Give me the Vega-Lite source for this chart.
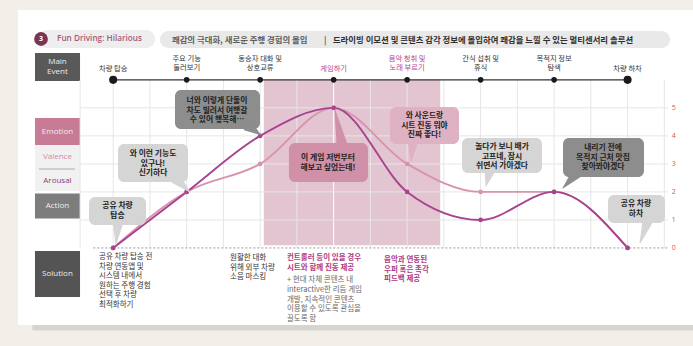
{
  "$schema": "https://vega.github.io/schema/vega-lite/v6.json",
  "width": 693,
  "height": 346,
  "autosize": {"type": "fit", "contains": "padding"},
  "padding": 0,
  "background": "#f2efe9",
  "config": {"view": {"stroke": null}, "font": "Noto Sans CJK KR"},
  "datasets": {
    "paper": [
      {"k": "paper", "i": -1.295, "i2": 7.89, "v": 8.49, "v2": -2.75},
      {"k": "shadow", "i": -1.1, "i2": 7.89, "v": -2.75, "v2": -2.95}
    ],
    "pills": [
      {"k": "pill1", "i": -1.023, "i2": 0.569, "v": 7.779, "v2": 7.137},
      {"k": "pill2", "i": 0.637, "i2": 7.577, "v": 7.743, "v2": 7.137}
    ],
    "circle": [{"k": "circle", "i": -0.982, "v": 7.458, "t": "3"}],
    "circletext": [{"k": "white", "i": -0.982, "v": 7.458, "t": "3"}],
    "headEn": [{"k": "head", "i": -0.764, "v": 7.458, "t": "Fun Driving: Hilarious"}],
    "headKo": [
      {"k": "hgray", "i": 0.8, "v": 7.44, "t": "쾌감의 극대화, 새로운 주행 경험의 몰입"},
      {"k": "hgray", "i": 2.87, "v": 7.44, "t": "|"},
      {"k": "hdark", "i": 2.99, "v": 7.44, "t": "드라이빙 이모션 및 콘텐츠 감각 정보에 몰입하여 쾌감을 느낄 수 있는 멀티센서리 솔루션"}
    ],
    "leftboxes": [
      {"k": "mainev", "i": -1.064, "i2": -0.451, "v": 6.958, "v2": 5.959},
      {"k": "emotion", "i": -1.064, "i2": -0.451, "v": 4.638, "v2": 3.674},
      {"k": "valbg", "i": -1.064, "i2": -0.451, "v": 3.674, "v2": 2.032},
      {"k": "action", "i": -1.064, "i2": -0.451, "v": 1.943, "v2": 1.051},
      {"k": "solution", "i": -1.064, "i2": -0.451, "v": -0.109, "v2": -1.751}
    ],
    "leftlabels": [
      {"k": "ltext", "i": -0.758, "v": 6.62, "t": "Main\nEvent"},
      {"k": "ltext", "i": -0.758, "v": 4.156, "t": "Emotion"},
      {"k": "valence", "i": -0.758, "v": 3.246, "t": "Valence"},
      {"k": "arousal", "i": -0.758, "v": 2.389, "t": "Arousal"},
      {"k": "ltext", "i": -0.758, "v": 1.497, "t": "Action"},
      {"k": "ltext", "i": -0.758, "v": -0.93, "t": "Solution"}
    ],
    "sep": [{"k": "sep", "i": -1.009, "i2": -0.52, "v": 2.818}],
    "zone": [{"k": "zone", "i": 2.05, "i2": 4.45, "v": 6, "v2": 0.1}],
    "vgrid": [
      {"k": "grid", "i": -0.45, "v": 0, "v2": 6},
      {"k": "grid", "i": 0, "v": 0, "v2": 6},
      {"k": "grid", "i": 0.5, "v": 0, "v2": 6},
      {"k": "grid", "i": 1, "v": 0, "v2": 6},
      {"k": "grid", "i": 1.5, "v": 0, "v2": 6},
      {"k": "grid", "i": 2, "v": 0, "v2": 6},
      {"k": "grid", "i": 2.5, "v": 0, "v2": 6},
      {"k": "zoneline", "i": 3, "v": 0, "v2": 6},
      {"k": "grid", "i": 3.5, "v": 0, "v2": 6},
      {"k": "grid", "i": 4, "v": 0, "v2": 6},
      {"k": "grid", "i": 4.5, "v": 0, "v2": 6},
      {"k": "grid", "i": 5, "v": 0, "v2": 6},
      {"k": "grid", "i": 5.5, "v": 0, "v2": 6},
      {"k": "grid", "i": 6, "v": 0, "v2": 6},
      {"k": "grid", "i": 6.5, "v": 0, "v2": 6},
      {"k": "grid", "i": 7, "v": 0, "v2": 6},
      {"k": "grid", "i": 7.5, "v": 0, "v2": 6}
    ],
    "hgrid": [
      {"k": "grid", "i": -0.45, "i2": 7.55, "v": 1},
      {"k": "grid", "i": -0.45, "i2": 7.55, "v": 2},
      {"k": "grid", "i": -0.45, "i2": 7.55, "v": 3},
      {"k": "grid", "i": -0.45, "i2": 7.55, "v": 4},
      {"k": "grid", "i": -0.45, "i2": 7.55, "v": 5}
    ],
    "base": [{"k": "base", "i": -0.27, "i2": 7.55, "v": 0}],
    "axlabels": [
      {"k": "axlab", "i": 7.6, "v": 0, "t": "0"},
      {"k": "axlab", "i": 7.6, "v": 1, "t": "1"},
      {"k": "axlab", "i": 7.6, "v": 2, "t": "2"},
      {"k": "axlab", "i": 7.6, "v": 3, "t": "3"},
      {"k": "axlab", "i": 7.6, "v": 4, "t": "4"},
      {"k": "axlab", "i": 7.6, "v": 5, "t": "5"}
    ],
    "evline": [{"k": "evline", "i": 0, "i2": 7, "v": 6}],
    "evdots": [
      {"k": "evdot", "i": 1, "v": 6},
      {"k": "evdot", "i": 2, "v": 6},
      {"k": "evdot", "i": 3, "v": 6},
      {"k": "evdot", "i": 4, "v": 6},
      {"k": "evdot", "i": 5, "v": 6},
      {"k": "evdot", "i": 6, "v": 6}
    ],
    "evends": [
      {"k": "evdot", "i": 0, "v": 6},
      {"k": "evdot", "i": 7, "v": 6}
    ],
    "evlabels": [
      {"k": "evtext", "i": 0, "v": 6.387, "t": "차량 탑승"},
      {"k": "evtext", "i": 1, "v": 6.76, "t": "주요 기능\n둘러보기"},
      {"k": "evtext", "i": 2, "v": 6.76, "t": "동승자 대화 및\n상호교류"},
      {"k": "evmag", "i": 3, "v": 6.387, "t": "게임하기"},
      {"k": "evmag", "i": 4, "v": 6.76, "t": "음악 청취 및\n노래 부르기"},
      {"k": "evtext", "i": 5, "v": 6.76, "t": "간식 섭취 및\n휴식"},
      {"k": "evtext", "i": 6, "v": 6.76, "t": "목적지 정보\n탐색"},
      {"k": "evtext", "i": 7, "v": 6.387, "t": "차량 하차"}
    ],
    "bubbles": [
      {"k": "dark", "i": 0.841, "i2": 1.998, "v": 5.638, "v2": 4.245},
      {"k": "light", "i": 0.066, "i2": 1.018, "v": 3.71, "v2": 2.354},
      {"k": "pink", "i": 2.392, "i2": 3.467, "v": 3.746, "v2": 2.354},
      {"k": "lightpink", "i": 3.767, "i2": 4.706, "v": 5.031, "v2": 3.71},
      {"k": "light", "i": 4.747, "i2": 5.835, "v": 3.924, "v2": 2.675},
      {"k": "dark", "i": 6.121, "i2": 7.223, "v": 3.924, "v2": 2.532},
      {"k": "light", "i": 6.733, "i2": 7.509, "v": 1.89, "v2": 0.89},
      {"k": "light", "i": -0.329, "i2": 0.447, "v": 1.818, "v2": 0.819}
    ],
    "tails": [
      {"id": "b1", "o": 0, "k": "dark", "i": 1.835, "v": 4.353, "w": 1},
      {"id": "b1", "o": 1, "k": "dark", "i": 2.0, "v": 4.05, "w": 0},
      {"id": "b2", "o": 0, "k": "light", "i": 0.855, "v": 2.461, "w": 1},
      {"id": "b2", "o": 1, "k": "light", "i": 1.045, "v": 1.997, "w": 0},
      {"id": "b3", "o": 0, "k": "pink", "i": 3.114, "v": 3.674, "w": 1},
      {"id": "b3", "o": 1, "k": "pink", "i": 3.018, "v": 4.924, "w": 0},
      {"id": "b4", "o": 0, "k": "lightpink", "i": 4.08, "v": 3.817, "w": 1},
      {"id": "b4", "o": 1, "k": "lightpink", "i": 4.053, "v": 3.1, "w": 0},
      {"id": "b5", "o": 0, "k": "light", "i": 5.128, "v": 2.782, "w": 1},
      {"id": "b5", "o": 1, "k": "light", "i": 5.073, "v": 2.211, "w": 0},
      {"id": "b6", "o": 0, "k": "dark", "i": 6.311, "v": 2.675, "w": 1},
      {"id": "b6", "o": 1, "k": "dark", "i": 6.121, "v": 2.139, "w": 0},
      {"id": "b7", "o": 0, "k": "light", "i": 7.278, "v": 0.997, "w": 1},
      {"id": "b7", "o": 1, "k": "light", "i": 7.169, "v": 0.176, "w": 0},
      {"id": "b8", "o": 0, "k": "light", "i": 0.066, "v": 0.926, "w": 1},
      {"id": "b8", "o": 1, "k": "light", "i": 0.039, "v": 0.141, "w": 0}
    ],
    "emotion": [
      {"k": "cVal", "i": 0, "v": 0}, {"k": "cVal", "i": 1, "v": 2}, {"k": "cVal", "i": 2, "v": 3}, {"k": "cVal", "i": 3, "v": 5},
      {"k": "cVal", "i": 4, "v": 3}, {"k": "cVal", "i": 5, "v": 2}, {"k": "cVal", "i": 6, "v": 2}, {"k": "cVal", "i": 7, "v": 0},
      {"k": "cAro", "i": 0, "v": 0}, {"k": "cAro", "i": 1, "v": 2}, {"k": "cAro", "i": 2, "v": 4}, {"k": "cAro", "i": 3, "v": 5},
      {"k": "cAro", "i": 4, "v": 2}, {"k": "cAro", "i": 5, "v": 1}, {"k": "cAro", "i": 6, "v": 2}, {"k": "cAro", "i": 7, "v": 0}
    ],
    "btext": [
      {"k": "btext", "i": 1.413, "v": 5.245, "t": "너와 이렇게 단둘이\n차도 빌려서 여행갈\n수 있어 행복해…"},
      {"k": "btext", "i": 0.542, "v": 3.353, "t": "와 이런 기능도\n있구나!\n신기하다"},
      {"k": "btext", "i": 2.923, "v": 3.21, "t": "이 게임 저번부터\n해보고 싶었는데!"},
      {"k": "btext", "i": 4.236, "v": 4.71, "t": "와 사운드랑\n시트 진동 뭐야\n진짜 좋다!"},
      {"k": "btext", "i": 5.291, "v": 3.603, "t": "놀다가 보니 배가\n고프네, 잠시\n쉬면서 가야겠다"},
      {"k": "btext", "i": 6.665, "v": 3.567, "t": "내리기 전에\n목적지 근처 맛집\n찾아봐야겠다"},
      {"k": "btext", "i": 7.114, "v": 1.568, "t": "공유 차량\n하차"},
      {"k": "btext", "i": 0.059, "v": 1.497, "t": "공유 차량\n탑승"}
    ],
    "sol": [
      {"k": "stext", "i": -0.193, "v": -0.323, "t": "공유 차량 탑승 전\n차량 연동앱 및\n시스템 내에서\n원하는 주행 경험\n선택 후 차량\n최적화하기"},
      {"k": "stext", "i": 1.59, "v": -0.359, "t": "원활한 대화\n위해 외부 차량\n소음 마스킹"},
      {"k": "sgray", "i": 2.365, "v": -1.16, "t": "+ 현대 자체 콘텐츠 내\ninteractive한 리듬 게임\n개발, 지속적인 콘텐츠\n이용할 수 있도록 관심을\n끌도록 함"}
    ],
    "solb": [
      {"k": "smag", "i": 2.365, "v": -0.359, "t": "컨트롤러 등이 있을 경우\n시트와 함께 진동 제공"},
      {"k": "smag", "i": 3.685, "v": -0.43, "t": "음악과 연동된\n우퍼 혹은 촉각\n피드백 제공"}
    ]
  },
  "encoding": {
    "x": {"field": "i", "type": "quantitative", "scale": {"domain": [-1.54, 7.89], "nice": false, "zero": false}, "axis": null},
    "y": {"field": "v", "type": "quantitative", "scale": {"domain": [-3.5, 8.85], "nice": false, "zero": false}, "axis": null},
    "color": {"field": "k", "type": "nominal", "legend": null,
      "scale": {
        "domain": ["paper", "shadow", "pill1", "pill2", "circle", "white", "head", "hgray", "hdark", "mainev", "emotion", "valbg", "action", "solution", "ltext", "valence", "arousal", "sep", "grid", "zone", "zoneline", "base", "evline", "evdot", "evtext", "evmag", "dark", "light", "pink", "lightpink", "btext", "cVal", "cAro", "stext", "smag", "sgray", "axlab"],
        "range": ["#ffffff", "#d9d5ce", "#eeeeee", "#e9e9e9", "#7b3553", "#ffffff", "#a65a79", "#5f5f5f", "#2e2e2e", "#595959", "#c77b95", "#f1f1f1", "#7d7d7d", "#545454", "#eeeeee", "#d58aa8", "#8c3b7c", "#9a9a9a", "#e6e6e6", "#e3c5d1", "#ffffff", "#9a9a9a", "#333333", "#1a1a1a", "#333333", "#b5418a", "#8d8d8d", "#d5d5d5", "#cf90a8", "#dfb2c3", "#222222", "#d893af", "#a8438f", "#333333", "#b03a82", "#6a6a6a", "#e0504f"]
      }}
  },
  "layer": [
    {"data": {"name": "paper"}, "mark": {"type": "rect"}, "encoding": {"x2": {"field": "i2"}, "y2": {"field": "v2"}}},
    {"data": {"name": "pills"}, "mark": {"type": "rect", "cornerRadius": 9}, "encoding": {"x2": {"field": "i2"}, "y2": {"field": "v2"}}},
    {"data": {"name": "circle"}, "mark": {"type": "point", "filled": true, "opacity": 1, "size": 190}},
    {"data": {"name": "circletext"}, "mark": {"type": "text", "font": "Open Sans", "fontSize": 7, "fontWeight": "bold", "align": "center", "baseline": "middle"}, "encoding": {"text": {"field": "t"}}},
    {"data": {"name": "headEn"}, "mark": {"type": "text", "font": "Open Sans", "fontSize": 8.2, "fontWeight": 600, "align": "left", "baseline": "middle"}, "encoding": {"text": {"field": "t"}}},
    {"data": {"name": "headKo"}, "mark": {"type": "text", "fontSize": 8.4, "fontWeight": "bold", "align": "left", "baseline": "middle"}, "encoding": {"text": {"field": "t"}}},
    {"data": {"name": "leftboxes"}, "mark": {"type": "rect"}, "encoding": {"x2": {"field": "i2"}, "y2": {"field": "v2"}}},
    {"data": {"name": "leftlabels"}, "mark": {"type": "text", "font": "Open Sans", "fontSize": 8, "align": "center", "baseline": "middle", "lineBreak": "\n", "lineHeight": 10}, "encoding": {"text": {"field": "t"}}},
    {"data": {"name": "sep"}, "mark": {"type": "rule", "strokeWidth": 0.8}, "encoding": {"x2": {"field": "i2"}}},
    {"data": {"name": "zone"}, "mark": {"type": "rect"}, "encoding": {"x2": {"field": "i2"}, "y2": {"field": "v2"}}},
    {"data": {"name": "vgrid"}, "mark": {"type": "rule", "strokeWidth": 1}, "encoding": {"y2": {"field": "v2"}}},
    {"data": {"name": "hgrid"}, "mark": {"type": "rule", "strokeWidth": 1}, "encoding": {"x2": {"field": "i2"}}},
    {"data": {"name": "base"}, "mark": {"type": "rule", "strokeWidth": 1, "strokeDash": [2, 2]}, "encoding": {"x2": {"field": "i2"}}},
    {"data": {"name": "axlabels"}, "mark": {"type": "text", "font": "Open Sans", "fontSize": 7, "align": "left", "baseline": "middle"}, "encoding": {"text": {"field": "t"}}},
    {"data": {"name": "evline"}, "mark": {"type": "rule", "strokeWidth": 1.2}, "encoding": {"x2": {"field": "i2"}}},
    {"data": {"name": "evdots"}, "mark": {"type": "point", "filled": true, "opacity": 1, "size": 32}},
    {"data": {"name": "evends"}, "mark": {"type": "point", "filled": true, "opacity": 1, "size": 65}},
    {"data": {"name": "evlabels"}, "mark": {"type": "text", "fontSize": 7.3, "align": "center", "baseline": "middle", "lineBreak": "\n", "lineHeight": 9.6}, "encoding": {"text": {"field": "t"}}},
    {"data": {"name": "emotion"}, "mark": {"type": "line", "interpolate": "monotone", "strokeWidth": 1.9}},
    {"data": {"name": "emotion"}, "mark": {"type": "point", "filled": true, "opacity": 1, "size": 22}},
    {"data": {"name": "bubbles"}, "mark": {"type": "rect", "cornerRadius": 6}, "encoding": {"x2": {"field": "i2"}, "y2": {"field": "v2"}}},
    {"data": {"name": "tails"}, "mark": {"type": "trail"}, "encoding": {"detail": {"field": "id"}, "order": {"field": "o", "type": "quantitative"}, "size": {"field": "w", "type": "quantitative", "scale": {"domain": [0, 1], "range": [0, 11]}, "legend": null}}},
    {"data": {"name": "btext"}, "mark": {"type": "text", "fontSize": 7.8, "fontWeight": "bold", "align": "center", "baseline": "middle", "lineBreak": "\n", "lineHeight": 9.6}, "encoding": {"text": {"field": "t"}}},
    {"data": {"name": "sol"}, "mark": {"type": "text", "fontSize": 7.5, "align": "left", "baseline": "middle", "lineBreak": "\n", "lineHeight": 9.6}, "encoding": {"text": {"field": "t"}}},
    {"data": {"name": "solb"}, "mark": {"type": "text", "fontSize": 7.5, "fontWeight": "bold", "align": "left", "baseline": "middle", "lineBreak": "\n", "lineHeight": 9.6}, "encoding": {"text": {"field": "t"}}}
  ]
}
